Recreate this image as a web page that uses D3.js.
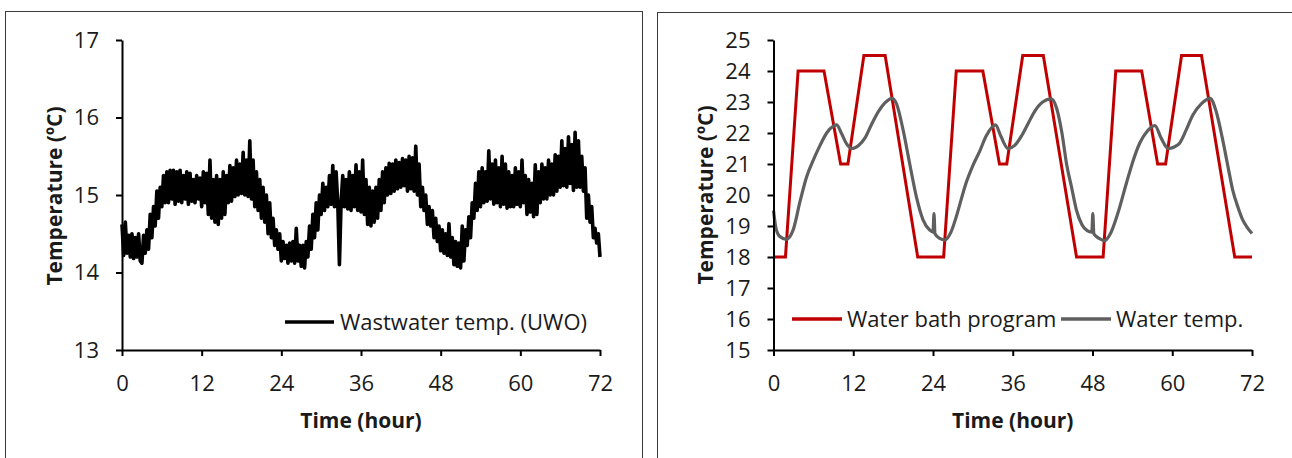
<!DOCTYPE html>
<html>
<head>
<meta charset="utf-8">
<script src="https://cdn.jsdelivr.net/npm/d3@7"></script>
<style>
  html, body { margin: 0; padding: 0; background: #fff; }
  svg { display: block; }
  text { font-family: "Open Sans", sans-serif; fill: #1a1a1a; }
</style>
</head>
<body>
<script>
// --- données ---
const ticksX = [0, 12, 24, 36, 48, 60, 72];
const ticksLeftY = [13, 14, 15, 16, 17];
const ticksRightY = [15, 16, 17, 18, 19, 20, 21, 22, 23, 24, 25];

// wastewater temperature (UWO), one reading every 15 min
const uwoStep = 0.25;
const uwoTemp = [
  14.62, 14.22, 14.65, 14.25,  14.48, 14.2, 14.5, 14.18,  14.45, 14.2, 14.5, 14.15,
  14.12, 14.48, 14.25, 14.55,  14.3, 14.75, 14.45, 14.85,  14.6, 15.05, 14.7, 15.1,
  14.85, 15.25, 14.9, 15.3,    14.9, 15.32, 14.95, 15.32,  14.88, 15.3, 14.92, 15.32,
  14.9, 15.25, 14.95, 15.3,    14.88, 15.28, 14.92, 15.2,  14.9, 15.25, 14.95, 15.22,
  14.85, 15.3, 14.9, 15.28,    14.75, 15.45, 14.7, 15.2,   14.65, 15.25, 14.62, 15.2,
  14.7, 15.3, 14.75, 15.25,    14.9, 15.38, 14.92, 15.35,  14.98, 15.45, 15.0, 15.4,
  15.02, 15.55, 15.0, 15.45,   14.98, 15.7, 14.95, 15.45,  14.85, 15.3, 14.8, 15.2,
  14.7, 15.1, 14.65, 15.0,     14.5, 14.9, 14.45, 14.7,    14.35, 14.55, 14.3, 14.5,
  14.15, 14.4, 14.18, 14.35,   14.12, 14.38, 14.15, 14.4,  14.12, 14.57, 14.15, 14.35,
  14.08, 14.35, 14.06, 14.4,   14.2, 14.6, 14.3, 14.75,    14.45, 14.9, 14.55, 15.0,
  14.75, 15.15, 14.8, 15.1,    14.85, 15.25, 14.88, 15.38, 14.85, 15.3, 14.9, 14.1,
  14.9, 15.25, 14.85, 15.2,    14.82, 15.3, 14.8, 15.25,   14.85, 15.39, 14.8, 15.3,
  14.78, 15.45, 14.75, 15.2,   14.62, 15.1, 14.6, 15.05,   14.65, 15.1, 14.7, 15.2,
  14.8, 15.3, 14.9, 15.35,     15.0, 15.41, 15.02, 15.4,   15.05, 15.45, 15.08, 15.42,
  15.1, 15.47, 15.12, 15.45,   15.05, 15.5, 15.08, 15.48,  15.05, 15.63, 15.0, 15.4,
  14.85, 15.1, 14.8, 15.0,     14.62, 14.85, 14.6, 14.8,   14.45, 14.7, 14.4, 14.6,
  14.28, 14.55, 14.25, 14.5,   14.22, 14.63, 14.2, 14.45,  14.1, 14.4, 14.08, 14.38,
  14.06, 14.6, 14.15, 14.55,   14.35, 14.72, 14.45, 14.9,  14.7, 15.15, 14.8, 15.3,
  14.85, 15.35, 14.9, 15.3,    14.92, 15.57, 14.95, 15.4,  14.88, 15.45, 14.9, 15.35,
  14.85, 15.5, 14.88, 15.4,    14.83, 15.3, 14.85, 15.25,  14.85, 15.35, 14.88, 15.3,
  14.85, 15.45, 14.9, 15.25,   14.75, 15.2, 14.78, 15.15,  14.72, 15.39, 14.75, 15.3,
  14.9, 15.4, 14.95, 15.35,    14.95, 15.45, 15.0, 15.4,   15.0, 15.52, 15.05, 15.5,
  15.1, 15.7, 15.12, 15.6,     15.1, 15.75, 15.15, 15.65,  15.06, 15.81, 15.1, 15.7,
  15.1, 15.5, 15.05, 15.35,    14.7, 15.0, 14.65, 14.85,   14.45, 14.57, 14.38, 14.5,
  14.2
];

// water bath program (red)
const bathTime = [0, 1.8, 3.7, 7.6, 10.1, 11.2, 13.6, 16.8, 21.7, 25.6, 27.5, 31.5, 34.0, 35.1,
  37.5, 40.6, 45.6, 49.6, 51.5, 55.4, 57.8, 59.0, 61.4, 64.4, 69.4, 72];
const bathTemp = [18, 18, 24, 24, 21, 21, 24.5, 24.5, 18, 18, 24, 24, 21, 21,
  24.5, 24.5, 18, 18, 24, 24, 21, 21, 24.5, 24.5, 18, 18];

// water temp (gray)
const waterTime = [0, 0.4, 1.0, 1.9, 3.0, 4.0, 5.0, 6.0, 7.0, 8.0, 9.0, 9.5, 10.2, 11.0, 11.8,
  12.8, 13.8, 14.8, 15.8, 16.8, 17.8, 18.5, 19.5, 20.5, 21.5, 22.5, 23.5, 24.0, 24.15, 24.3,
  25.0, 25.8, 26.7, 27.5, 28.3, 29.0, 30.0, 31.0, 32.0, 33.4, 34.2, 35.3, 36.3, 37.3, 38.3,
  39.3, 40.5, 41.8, 42.6, 43.4, 44.1, 44.9, 45.6, 46.4, 47.2, 47.9, 48.05, 48.2, 49.0, 49.8,
  50.8, 51.8, 53.1, 54.1, 55.1, 56.2, 57.4, 58.3, 59.4, 60.3, 61.1, 62.1, 63.1, 64.4, 65.7,
  66.6, 67.6, 68.4, 69.1, 69.9, 70.6, 71.3, 72];
const waterTemp = [19.5, 18.9, 18.65, 18.57, 18.9, 19.8, 20.6, 21.13, 21.6, 22.0, 22.22, 22.26, 22.0, 21.65, 21.5,
  21.6, 21.85, 22.3, 22.7, 22.98, 23.12, 22.95, 22.1, 21.0, 19.94, 19.2, 18.87, 18.8, 19.4, 18.75,
  18.6, 18.55, 18.8, 19.3, 19.9, 20.4, 20.95, 21.4, 21.9, 22.26, 21.9, 21.5, 21.6, 21.9, 22.3,
  22.7, 23.0, 23.1, 22.8, 22.0, 21.0, 20.2, 19.5, 19.05, 18.85, 18.8, 19.4, 18.75, 18.6, 18.53,
  18.8, 19.4, 20.38, 21.1, 21.67, 22.05, 22.24, 21.85, 21.5, 21.55, 21.67, 22.1, 22.58, 22.95, 23.12,
  22.7, 21.77, 20.9, 20.16, 19.6, 19.2, 18.95, 18.76];

const width = 1292, height = 458;
const svg = d3.select("body").append("svg").attr("width", width).attr("height", height);

// cadres
svg.append("rect").attr("x", 5.5).attr("y", 11.5).attr("width", 637).attr("height", 470)
  .attr("fill", "none").attr("stroke", "#3a3a3a").attr("stroke-width", 1);
svg.append("rect").attr("x", 657.5).attr("y", 12.5).attr("width", 660).attr("height", 470)
  .attr("fill", "none").attr("stroke", "#3a3a3a").attr("stroke-width", 1);

function drawAxes(x, y, yTicks, titleX, titleY) {
  const gx = svg.append("g").attr("transform", "translate(0," + y.range()[0] + ")")
    .call(d3.axisBottom(x).tickValues(ticksX).tickSize(6).tickSizeOuter(0).tickPadding(19));
  const gy = svg.append("g").attr("transform", "translate(" + x.range()[0] + ",0)")
    .call(d3.axisLeft(y).tickValues(yTicks).tickSize(6).tickSizeOuter(0).tickPadding(17).tickFormat(d3.format("d")));
  [gx, gy].forEach(g => {
    g.select(".domain").attr("stroke", "#000").attr("stroke-width", 2);
    g.selectAll(".tick line").attr("stroke", "#000").attr("stroke-width", 2);
    g.selectAll(".tick text").style("font-family", "'Open Sans', sans-serif").style("font-size", "22px").attr("fill", "#1a1a1a");
  });
  svg.append("text").attr("x", (x.range()[0] + x.range()[1]) / 2).attr("y", 428)
    .attr("text-anchor", "middle").style("font-size", "21px").style("font-weight", "bold").text("Time (hour)");
  svg.append("text").attr("transform", "translate(" + titleX + "," + titleY + ") rotate(-90)")
    .attr("text-anchor", "middle").attr("dy", "0.35em")
    .style("font-size", "21px").style("font-weight", "bold").text("Temperature (ºC)");
}

// --- graphique gauche ---
const xL = d3.scaleLinear().domain([0, 72]).range([122, 600]);
const yL = d3.scaleLinear().domain([13, 17]).range([350, 40]);

svg.append("path")
  .datum(uwoTemp)
  .attr("fill", "none").attr("stroke", "#000").attr("stroke-width", 3.6).attr("stroke-linejoin", "round")
  .attr("d", d3.line().x((d, i) => xL(i * uwoStep)).y(d => yL(d)));

drawAxes(xL, yL, ticksLeftY, 55, 196);

svg.append("line").attr("x1", 285).attr("x2", 334).attr("y1", 322).attr("y2", 322)
  .attr("stroke", "#000").attr("stroke-width", 3.5);
svg.append("text").attr("x", 340).attr("y", 322).attr("dy", "0.35em")
  .style("font-size", "22px").text("Wastwater temp. (UWO)");

// --- graphique droit ---
const xR = d3.scaleLinear().domain([0, 72]).range([773.5, 1252]);
const yR = d3.scaleLinear().domain([15, 25]).range([350, 40]);

svg.append("path")
  .datum(d3.zip(bathTime, bathTemp))
  .attr("fill", "none").attr("stroke", "#c00000").attr("stroke-width", 3)
  .attr("d", d3.line().x(d => xR(d[0])).y(d => yR(d[1])));

svg.append("path")
  .datum(d3.zip(waterTime, waterTemp))
  .attr("fill", "none").attr("stroke", "#5f5f5f").attr("stroke-width", 3.2)
  .attr("d", d3.line().curve(d3.curveMonotoneX).x(d => xR(d[0])).y(d => yR(d[1])));

drawAxes(xR, yR, ticksRightY, 706, 195);

svg.append("line").attr("x1", 792).attr("x2", 842).attr("y1", 319).attr("y2", 319)
  .attr("stroke", "#c00000").attr("stroke-width", 3.5);
svg.append("text").attr("x", 847).attr("y", 319).attr("dy", "0.35em")
  .style("font-size", "22px").text("Water bath program");
svg.append("line").attr("x1", 1061).attr("x2", 1111).attr("y1", 319).attr("y2", 319)
  .attr("stroke", "#5f5f5f").attr("stroke-width", 3.5);
svg.append("text").attr("x", 1116).attr("y", 319).attr("dy", "0.35em")
  .style("font-size", "22px").text("Water temp.");
</script>
</body>
</html>
